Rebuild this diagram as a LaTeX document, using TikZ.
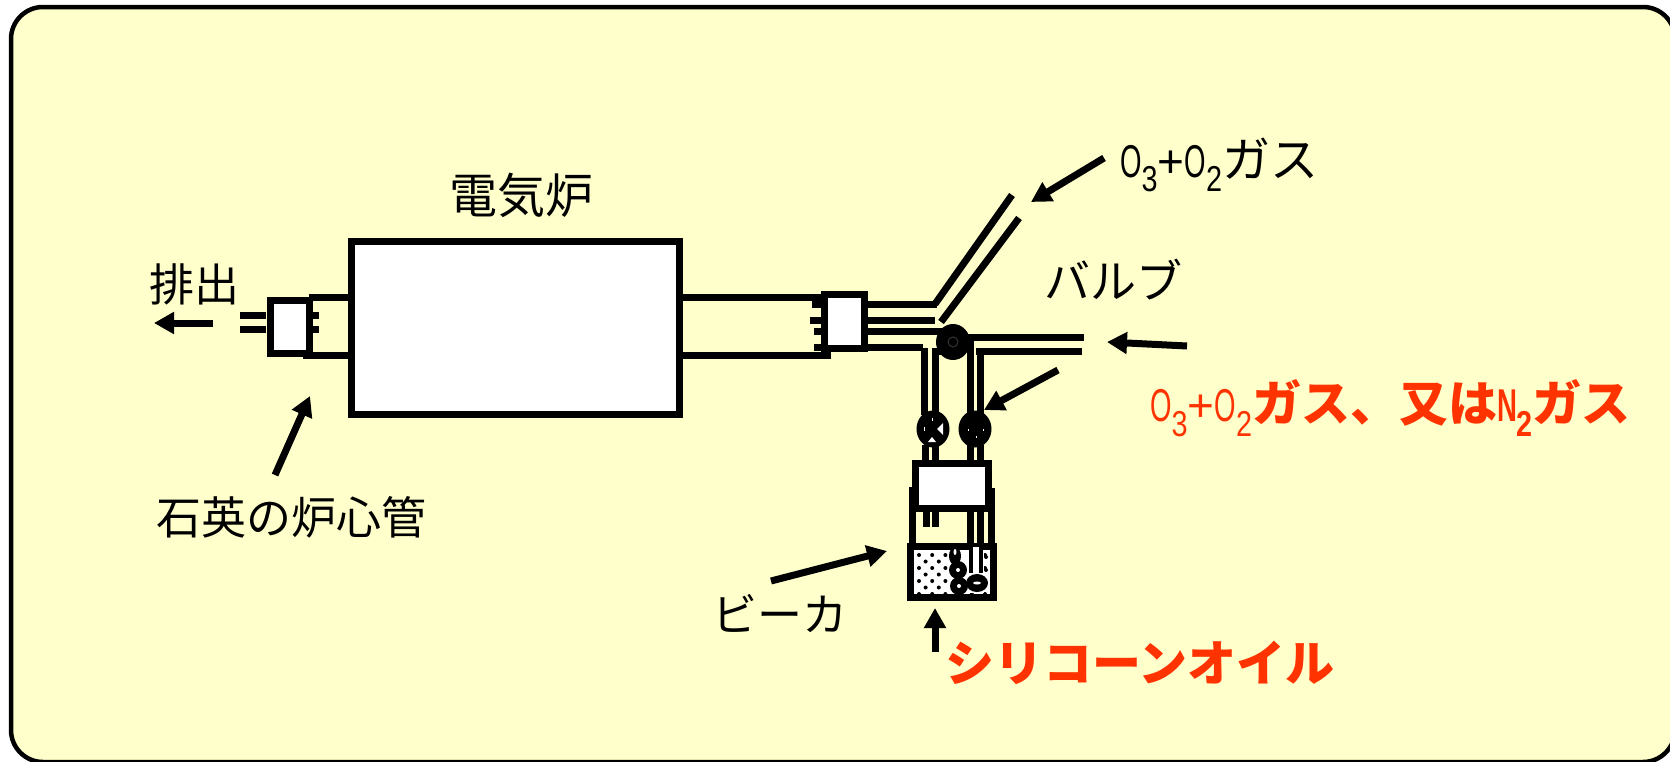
\documentclass[tikz,border=0pt]{standalone}
\usepackage{fontspec}
\usetikzlibrary{arrows.meta}
\setmainfont{Noto Sans CJK JP}
\newfontfamily\narrowlatin[FakeStretch=0.6]{Liberation Sans}
\newfontfamily\sublatin[FakeStretch=0.8]{Liberation Sans}
\newfontfamily\pluslatin{Liberation Sans}
\definecolor{panel}{HTML}{FFFFCC}
\definecolor{redtext}{HTML}{FF3300}
\newcommand{\subdigit}[1]{\raisebox{-0.32em}{\sublatin\fontsize{36pt}{36pt}\selectfont #1}}
\newcommand{\gasformula}{{\narrowlatin\fontsize{46pt}{46pt}\selectfont O\subdigit{3}{\pluslatin +}O\subdigit{2}}}
\newcommand{\nitrogen}{{\narrowlatin\fontsize{46pt}{46pt}\selectfont N\subdigit{2}}}
\tikzset{
  pipe/.style={line width=7pt,line cap=butt},
  wall/.style={draw=black,line width=7pt,fill=white},
  callout/.style={line width=7pt,-{Triangle[length=20pt,width=21pt]}},
  label/.style={inner sep=0pt,font=\fontsize{45pt}{45pt}\selectfont},
  redlabel/.style={inner sep=0pt,text=redtext,font=\fontsize{49pt}{49pt}\selectfont\bfseries},
}
\begin{document}
\begin{tikzpicture}[x=1pt,y=-1pt]
\useasboundingbox (0,0) rectangle (1670,761);
\clip (0,0) rectangle (1670,761);
\fill[white] (0,0) rectangle (1670,761);
\draw[line width=4.5pt,fill=panel,rounded corners=32pt] (11,7) rectangle (1675,762);

% furnace and quartz tube
\draw[pipe] (309,297.5) -- (350,297.5) (303,355) -- (350,355);
\draw[pipe] (680,297.5) -- (821,297.5) (680,355) -- (831,355);
\draw[wall] (351.5,241) rectangle (679.5,414);
% exhaust plug
\draw[pipe] (240,315.5) -- (266,315.5) (240,329.5) -- (266,329.5);
\draw[pipe] (312,315.5) -- (319,315.5) (312,329.5) -- (319,329.5);
\draw[wall] (270,300.5) rectangle (309,353.5);
% gas plug
\draw[pipe] (812,304) -- (821,304) (810,320) -- (821,320) (814,331) -- (821,331) (814,347.5) -- (821,347.5);
\draw[wall] (824.5,294) rectangle (864.5,348.5);
\draw[pipe] (868,304) -- (937,304) (868,320) -- (935,320) (868,331) -- (942,331) (868,347.5) -- (923,347.5);
% upper feed
\draw[pipe] (935,304) -- (1012,195) (941,322) -- (1019,218);
% lower feed
\draw[pipe] (968,337) -- (1084,337) (976,351) -- (1082,351);
% vertical pipes above the valves
\draw[pipe] (924,348) -- (924,415) (935,353) -- (935,415) (970,340) -- (970,415) (980,348) -- (980,415);
\draw[pipe] (932,351) -- (941,351);
\fill (953,342) ellipse[x radius=17pt,y radius=18pt];
\draw[black!80,line width=1pt] (953,342) circle[radius=5pt];
% pipes under the valves
\draw[pipe] (925.5,445) -- (925.5,462) (935,445) -- (935,462) (970,445) -- (970,462) (980,445) -- (980,462);
% valves
\fill (933,429) ellipse[x radius=16.5pt,y radius=18.5pt];
\fill (975,429) ellipse[x radius=16.5pt,y radius=18.5pt];
\fill[white] (943,423) -- (943,435) -- (937,429) -- cycle;
\fill[white] (928,442) -- (936,442) -- (932,437) -- cycle;
\fill[white] (923.5,427) rectangle (925,431);
\fill[white] (932,418) rectangle (933,421);
\fill[white] (967.5,429) rectangle (969,431);
\fill[white] (975.5,436) rectangle (977,438);
\fill[white] (982.5,429) rectangle (984,431);
% head of the bubbler
\draw[pipe] (912.5,487) -- (912.5,547) (991,488) -- (991,547);
\draw[pipe] (926,505) -- (926,527) (935,505) -- (935,527);
\draw[pipe] (970,505) -- (970,547) (980,505) -- (980,547);
\draw[wall] (915,463.5) rectangle (988,508.5);
% beaker
\draw[wall] (910.5,546.5) rectangle (993,597);
\foreach \i in {0,...,5}{
  \foreach \j in {0,...,3}{
    \fill (919+\i*13.2,555+\j*13) circle[radius=2pt];
  }
  \foreach \j in {0,...,2}{
    \ifnum\i<5 \fill (925.6+\i*13.2,561.5+\j*13) circle[radius=2pt];\fi
  }
}
\foreach \y in {557,570,583} {\fill (986,\y) circle[radius=2pt];}
\fill[white] (949,550.5) rectangle (984,593);
\foreach \y in {575,588} {\fill[black!70] (964,\y) circle[radius=1.2pt];}
\fill (955,556) ellipse[x radius=6pt,y radius=9pt];
\fill (958,570) circle[radius=9pt];
\fill (959,586) circle[radius=9pt];
\fill (977,583) ellipse[x radius=11pt,y radius=9pt];
\fill[white] (958,570) circle[radius=2pt];
\fill[white] (959,586) circle[radius=2pt];
\fill[white] (977,583) ellipse[x radius=4pt,y radius=1.5pt];
\fill[white] (955,552) ellipse[x radius=1.5pt,y radius=3pt];
\draw[line width=3.5pt] (971,548) -- (971,573) (981,548) -- (981,573);
\fill[white] (973,547) rectangle (979,572);

% labels
\node[label,font=\fontsize{48pt}{48pt}\selectfont] (furnace) at (521,195) {電気炉};
\node[label] (exhaust) at (194,284) {排出};
\node[label] (quartz) at (291,517) {石英の炉心管};
\node[label,anchor=west,font=\fontsize{48pt}{48pt}\selectfont] (gasA) at (1120,165) {\gasformula ガス};
\node[label,font=\fontsize{46pt}{46pt}\selectfont] (bulb) at (1113,280) {バルブ};
\node[redlabel,anchor=west] (gasB) at (1150,408) {\mdseries\gasformula\bfseries ガス、又は\nitrogen ガス};
\node[label] (beakerlab) at (780,614) {ビーカ};
\node[redlabel] (oil) at (1140,663) {シリコーンオイル};

% callout arrows
\coordinate (a1t) at (213,323); \coordinate (a1h) at (154,323);
\coordinate (a2t) at (275,475); \coordinate (a2h) at (310,396);
\coordinate (a3t) at (1104,158); \coordinate (a3h) at (1031,202);
\coordinate (a4t) at (1187,346); \coordinate (a4h) at (1107,342);
\coordinate (a5t) at (1058,370); \coordinate (a5h) at (984,410);
\coordinate (a6t) at (771,581); \coordinate (a6h) at (887,551);
\coordinate (a7t) at (935,652); \coordinate (a7h) at (935,608);
\foreach \n in {1,...,7}{\draw[callout] (a\n t) -- (a\n h);}
\end{tikzpicture}
\end{document}
